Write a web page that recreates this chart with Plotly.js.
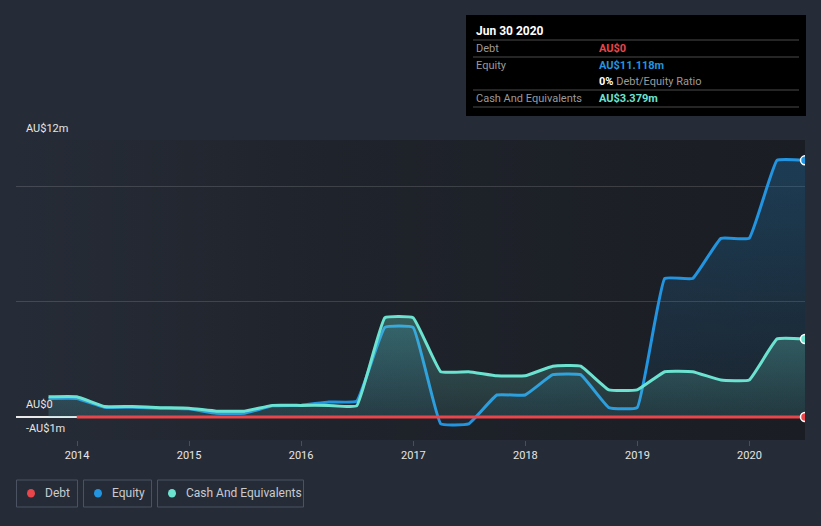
<!DOCTYPE html>
<html>
<head>
<meta charset="utf-8">
<script src="https://cdn.plot.ly/plotly-3.0.1.min.js"></script>
<style>
  html, body { margin: 0; padding: 0; background: #262c37; }
  #chart { width: 821px; height: 526px; }
</style>
</head>
<body>
<div id="chart"></div>
<script>
// ---- data (AU$ millions) ----
const dates = ["2013-09-30","2013-12-31","2014-03-31","2014-06-30","2014-09-30","2014-12-31",
  "2015-03-31","2015-06-30","2015-09-30","2015-12-31","2016-03-31","2016-06-30",
  "2016-09-30","2016-12-31","2017-03-31","2017-06-30","2017-09-30","2017-12-31",
  "2018-03-31","2018-06-30","2018-09-30","2018-12-31","2019-03-31","2019-06-30",
  "2019-09-30","2019-12-31","2020-03-31","2020-06-30"];
const debt = [null,0,0,0,0,0, 0,0,0,0,0,0, 0,0,0,0,0,0, 0,0,0,0,0,0, 0,0,0,0];
const equity = [0.80,0.80,0.42,0.42,0.38,0.35, 0.16,0.16,0.48,0.50,0.65,0.68,
  3.88,3.88,-0.30,-0.30,0.95,0.95, 1.83,1.83,0.40,0.40,6.00,6.00, 7.74,7.74,11.118,11.118];
const cash = [0.87,0.87,0.45,0.45,0.40,0.38, 0.25,0.25,0.50,0.50,0.50,0.48,
  4.30,4.30,1.96,1.96,1.78,1.78, 2.20,2.20,1.17,1.17,1.96,1.96, 1.60,1.60,3.379,3.379];
const yearTicks = ["2014-01-01","2015-01-01","2016-01-01","2017-01-01","2018-01-01","2019-01-01","2020-01-01"];
const yearLabels = ["2014","2015","2016","2017","2018","2019","2020"];
const yLabelVals = [12, 0, -1];
const yLabelText = ["AU$12m", "AU$0", "-AU$1m"];
const tipDate = "Jun 30 2020";
const tipRows = [
  {label: "Debt", value: "AU$0"},
  {label: "Equity", value: "AU$11.118m"},
  {label: "", value: "0%"},
  {label: "Cash And Equivalents", value: "AU$3.379m"}
];
const legendNames = ["Debt", "Equity", "Cash And Equivalents"];

// ---- styles ----
const C_DEBT = "#e8464b", C_EQ = "#2394df", C_CASH = "#6ce3d0";
const FONT = "Roboto, 'Open Sans', sans-serif";
const W = 821, H = 526, ML = 16, MR = 16, MT = 140, MB = 86;
const PW = W - ML - MR, PH = H - MT - MB;
const px = v => (v - ML) / PW;
const py = v => (H - MB - v) / PH;
const SM = 0.3;

const last = dates.length - 1;
const traces = [
  {x: dates, y: equity, type: "scatter", mode: "lines", fill: "tozeroy",
   line: {color: C_EQ, width: 3, shape: "spline", smoothing: SM},
   fillcolor: "rgba(35,148,223,0.18)",
   fillgradient: {type: "vertical", start: 0, stop: 11.2,
     colorscale: [[0, "rgba(35,148,223,0.06)"], [1, "rgba(35,148,223,0.26)"]]}},
  {x: dates, y: cash, type: "scatter", mode: "lines", fill: "tozeroy",
   line: {color: C_CASH, width: 3, shape: "spline", smoothing: SM},
   fillcolor: "rgba(108,227,208,0.2)",
   fillgradient: {type: "vertical", start: 0, stop: 4.3,
     colorscale: [[0, "rgba(108,227,208,0.10)"], [1, "rgba(108,227,208,0.30)"]]}},
  {x: dates, y: debt, type: "scatter", mode: "lines",
   line: {color: C_DEBT, width: 3, shape: "spline", smoothing: SM}},
  {x: [dates[last]], y: [equity[last]], type: "scatter", mode: "markers",
   marker: {color: C_EQ, size: 9, line: {color: "#ffffff", width: 1.5}}},
  {x: [dates[last]], y: [cash[last]], type: "scatter", mode: "markers",
   marker: {color: C_CASH, size: 9, line: {color: "#ffffff", width: 1.5}}},
  {x: [dates[last]], y: [debt[last]], type: "scatter", mode: "markers",
   marker: {color: C_DEBT, size: 9, line: {color: "#ffffff", width: 1.5}}}
];

const shapes = [];
const annotations = [];

// y labels
yLabelVals.forEach((v, i) => {
  annotations.push({xref: "paper", yref: "y", x: 0, y: v, xshift: 8, yshift: 12,
    xanchor: "left", yanchor: "middle", showarrow: false, text: yLabelText[i],
    font: {family: FONT, size: 11, color: "#e6e6e6"}});
});

// tooltip box
shapes.push({type: "rect", xref: "paper", yref: "paper", x0: px(466), x1: px(806), y0: py(116), y1: py(15),
  fillcolor: "#000000", line: {width: 0}, layer: "above"});
[40, 57, 90, 107].forEach(yy => shapes.push({type: "line", xref: "paper", yref: "paper",
  x0: px(473), x1: px(799), y0: py(yy), y1: py(yy), line: {color: "#4a4a4a", width: 1}, layer: "above"}));
annotations.push({xref: "paper", yref: "paper", x: px(474), y: py(31), xanchor: "left", yanchor: "middle",
  showarrow: false, text: "<b>" + tipDate + "</b>", font: {family: FONT, size: 12, color: "#ffffff"}});
const rowY = [48, 65, 81.5, 98];
const rowColors = [C_DEBT, C_EQ, "#ffffff", C_CASH];
tipRows.forEach((r, i) => {
  if (r.label) annotations.push({xref: "paper", yref: "paper", x: px(474), y: py(rowY[i]), xanchor: "left",
    yanchor: "middle", showarrow: false, text: r.label, font: {family: FONT, size: 11, color: "#9a9a9a"}});
  const txt = i === 2 ? "<b>" + r.value + "</b><span style='color:#9a9a9a'> Debt/Equity Ratio</span>"
                      : "<b>" + r.value + "</b>";
  annotations.push({xref: "paper", yref: "paper", x: px(597), y: py(rowY[i]), xanchor: "left",
    yanchor: "middle", showarrow: false, text: txt, font: {family: FONT, size: 11, color: rowColors[i]}});
});

// legend boxes
const legBoxes = [[16, 78], [83, 152], [157, 304]];
const legDotX = [31, 98, 172];
const legColors = [C_DEBT, C_EQ, C_CASH];
legBoxes.forEach((b, i) => {
  shapes.push({type: "rect", xref: "paper", yref: "paper", x0: px(b[0] + 0.5), x1: px(b[1] - 0.5),
    y0: py(507), y1: py(480), line: {color: "#4b5262", width: 1}, fillcolor: "rgba(0,0,0,0)"});
  shapes.push({type: "circle", xref: "paper", yref: "paper", x0: px(legDotX[i] - 4), x1: px(legDotX[i] + 4),
    y0: py(497.5), y1: py(489), fillcolor: legColors[i], line: {width: 0}});
  annotations.push({xref: "paper", yref: "paper", x: px(legDotX[i] + 12), y: py(493.5), xanchor: "left",
    yanchor: "middle", showarrow: false, text: legendNames[i], font: {family: FONT, size: 12, color: "#c8cbd0"}});
});

// background gradient for plot area
const svg = "<svg xmlns='http://www.w3.org/2000/svg' width='100' height='100' preserveAspectRatio='none'>" +
  "<defs><linearGradient id='g' x1='0' x2='1' y1='0' y2='0'>" +
  "<stop offset='0' stop-color='#262c37'/><stop offset='0.4' stop-color='#1f232b'/>" +
  "<stop offset='1' stop-color='#1a1d23'/></linearGradient></defs>" +
  "<rect width='100' height='100' fill='url(#g)'/></svg>";

const layout = {
  width: W, height: H,
  margin: {l: ML, r: MR, t: MT, b: MB, pad: 0},
  paper_bgcolor: "#262c37",
  plot_bgcolor: "#262c37",
  showlegend: false,
  hovermode: false,
  font: {family: FONT, color: "#e0e0e0"},
  images: [{source: "data:image/svg+xml;charset=utf-8," + encodeURIComponent(svg),
    xref: "paper", yref: "paper", x: 0, y: 1, sizex: 1, sizey: 1, sizing: "stretch",
    xanchor: "left", yanchor: "top", layer: "below"}],
  xaxis: {type: "date", range: ["2013-06-16", "2020-06-30"], tickvals: yearTicks, ticktext: yearLabels,
    ticks: "outside", ticklen: 5, tickcolor: "#4a505b", showgrid: false, showline: false, zeroline: false,
    tickfont: {family: FONT, size: 11, color: "#e6e6e6"}, fixedrange: true},
  yaxis: {range: [-1, 12], tickvals: [-1, 5, 10, 12], showticklabels: false, ticks: "",
    gridcolor: "rgba(255,255,255,0.14)", gridwidth: 1, zeroline: true, zerolinecolor: "#e8e8e8",
    zerolinewidth: 1.5, showline: false, fixedrange: true},
  shapes: shapes,
  annotations: annotations
};

Plotly.newPlot("chart", traces, layout, {staticPlot: true, displayModeBar: false});
</script>
</body>
</html>
